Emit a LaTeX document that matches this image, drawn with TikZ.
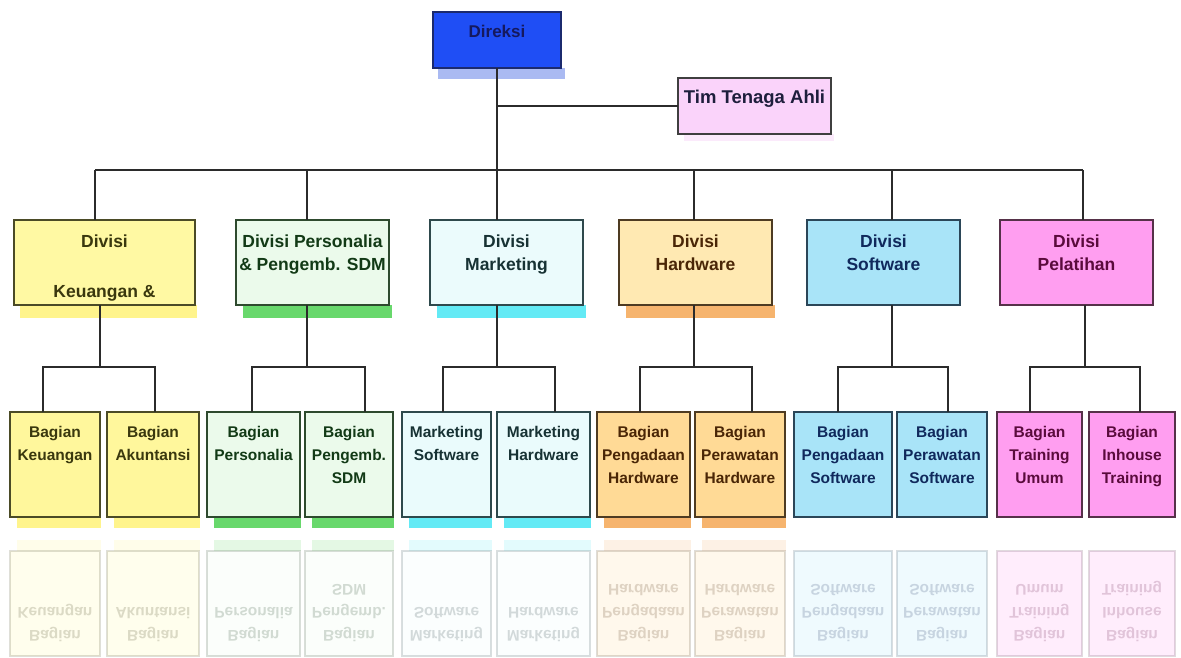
\documentclass[tikz,border=0pt]{standalone}
\usepackage{fontspec}
\setmainfont{Liberation Sans}

% warna
\definecolor{hitam}{HTML}{2B2B2B}
\definecolor{dir-isi}{HTML}{1F4EF5}\definecolor{dir-teks}{HTML}{15195E}
\definecolor{dir-garis}{HTML}{1B2A6E}\definecolor{dir-bayang}{HTML}{AABAF2}
\definecolor{tim-isi}{HTML}{FAD3FA}\definecolor{tim-teks}{HTML}{1E1E3C}
\definecolor{tim-garis}{HTML}{3F3F3F}\definecolor{tim-bayang}{HTML}{FBEAFB}
\definecolor{keu-div}{HTML}{FFF9A3}\definecolor{keu-sub}{HTML}{FFF79C}
\definecolor{keu-garis}{HTML}{4B4B26}\definecolor{keu-teks}{HTML}{3A380E}
\definecolor{keu-bayang}{HTML}{FFF48C}
\definecolor{per-div}{HTML}{EBFAEB}\definecolor{per-sub}{HTML}{EBFAEB}
\definecolor{per-garis}{HTML}{2E4A2E}\definecolor{per-teks}{HTML}{123A16}
\definecolor{per-bayang}{HTML}{68D86C}
\definecolor{mkt-div}{HTML}{EBFBFC}\definecolor{mkt-sub}{HTML}{EAFBFC}
\definecolor{mkt-garis}{HTML}{2E494C}\definecolor{mkt-teks}{HTML}{173234}
\definecolor{mkt-bayang}{HTML}{63EAF5}
\definecolor{hw-div}{HTML}{FFE9B2}\definecolor{hw-sub}{HTML}{FFDA96}
\definecolor{hw-garis}{HTML}{4E3B22}\definecolor{hw-teks}{HTML}{4A2606}
\definecolor{hw-bayang}{HTML}{F6B46E}
\definecolor{sw-div}{HTML}{A9E4F8}\definecolor{sw-sub}{HTML}{A9E4F8}
\definecolor{sw-garis}{HTML}{2B4658}\definecolor{sw-teks}{HTML}{10295C}
\definecolor{sw-bayang}{HTML}{FFFFFF}
\definecolor{pl-div}{HTML}{FF9EF0}\definecolor{pl-sub}{HTML}{FF9EF0}
\definecolor{pl-garis}{HTML}{563149}\definecolor{pl-teks}{HTML}{5A0B3C}
\definecolor{pl-bayang}{HTML}{FFFFFF}

% teks rata atas
\newcommand{\baris}[1]{\begin{tabular}[t]{@{}c@{}}#1\end{tabular}}

% bagian: kiri/kanan/warna/teks
\def\daftarbagian{10/100/keu/Bagian\\Keuangan, 107/199/keu/Bagian\\Akuntansi,
  207/300/per/Bagian\\Personalia, 305/393/per/Bagian\\Pengemb.\\SDM,
  402/491/mkt/Marketing\\Software, 497/590/mkt/Marketing\\Hardware,
  597/690/hw/Bagian\\Pengadaan\\Hardware, 695/785/hw/Bagian\\Perawatan\\Hardware,
  794/892/sw/Bagian\\Pengadaan\\Software, 897/987/sw/Bagian\\Perawatan\\Software,
  997/1082/pl/Bagian\\Training\\Umum, 1089/1175/pl/Bagian\\Inhouse\\Training}

\begin{document}
\begin{tikzpicture}[x=1pt,y=-1pt,
    sambung/.style={draw=hitam, line width=1.3pt},
    kotak/.style={draw, line width=1.2pt, inner sep=0pt, outer sep=0pt, anchor=north west},
    divisi/.style={kotak, minimum width=153pt, text height=27pt, text depth=58pt,
      font=\bfseries\fontsize{17.5}{23}\selectfont},
    bagian/.style={kotak, text height=25.5pt, text depth=79.5pt,
      font=\bfseries\fontsize{15.5}{23}\selectfont}]
    \useasboundingbox (0,0) rectangle (1181,657);

    % Direksi dan tim
    \fill[dir-bayang] (438,68) rectangle (565,79);
    \fill[tim-bayang] (684,134) rectangle (834,141);
    \node[kotak, fill=dir-isi, draw=dir-garis, text=dir-teks, minimum width=128pt,
      text height=25pt, text depth=31pt, font=\bfseries\fontsize{17}{20}\selectfont]
      (dir) at (433,12) {Direksi};
    \node[kotak, fill=tim-isi, draw=tim-garis, text=tim-teks, minimum width=153pt,
      text height=25pt, text depth=31pt, font=\bfseries\fontsize{18.5}{22}\selectfont]
      (tim) at (678,78) {Tim Tenaga Ahli};

    % Divisi
    \foreach \xa/\xb/\w in {20/197/keu, 243/392/per, 437/586/mkt, 626/775/hw}
      \fill[\w-bayang] (\xa,305) rectangle (\xb,318);
    \node[divisi, fill=keu-div, draw=keu-garis, text=keu-teks, minimum width=181pt]
      (dkeu) at (14,220) {\baris{Divisi\\[27pt]Keuangan \&}};
    \node[divisi, fill=per-div, draw=per-garis, text=per-teks]
      (dper) at (236,220) {\baris{Divisi Personalia\\\& Pengemb. SDM}};
    \node[divisi, fill=mkt-div, draw=mkt-garis, text=mkt-teks]
      (dmkt) at (430,220) {\baris{Divisi\\Marketing}};
    \node[divisi, fill=hw-div, draw=hw-garis, text=hw-teks]
      (dhw) at (619,220) {\baris{Divisi\\Hardware}};
    \node[divisi, fill=sw-div, draw=sw-garis, text=sw-teks]
      (dsw) at (807,220) {\baris{Divisi\\Software}};
    \node[divisi, fill=pl-div, draw=pl-garis, text=pl-teks]
      (dpl) at (1000,220) {\baris{Divisi\\Pelatihan}};

    % Bagian
    \foreach \xa/\xb/\w/\teks [count=\i] in \daftarbagian {
      \fill[\w-bayang] (\xa+7,517) rectangle (\xb+1,528);
      \node[bagian, fill=\w-sub, draw=\w-garis, text=\w-teks,
        minimum width=(\xb-\xa)*1pt] (b\i) at (\xa,412) {\baris{\teks}};
    }

    % Garis penghubung
    \coordinate (bus) at (497,170);
    \draw[sambung] (dir.south) -- (dir.south |- bus);
    \draw[sambung] (dir.south |- tim.west) -- (tim.west);
    \draw[sambung] (bus -| 95,0) -- (bus -| 1083,0);
    \foreach \d/\xd in {dkeu/95, dper/307, dmkt/497, dhw/694, dsw/892, dpl/1083}
      \draw[sambung] (bus -| \xd,0) -- (\d.north -| \xd,0);
    \foreach \d/\xd/\xl/\xr/\sa/\sb in {dkeu/100/43/155/b1/b2, dper/307/252/365/b3/b4,
        dmkt/497/443/555/b5/b6, dhw/694/640/752/b7/b8, dsw/892/838/948/b9/b10,
        dpl/1085/1030/1140/b11/b12} {
      \coordinate (t-\d) at (\xd,367);
      \draw[sambung] (\d.south -| t-\d) -- (t-\d);
      \draw[sambung] (\sa.north -| \xl,0) |- (t-\d) -| (\sb.north -| \xr,0);
    }

    % Pantulan
    \begin{scope}[yshift=-1068pt, yscale=-1, transform shape, opacity=.18]
      \foreach \xa/\xb/\w/\teks [count=\i] in \daftarbagian {
        \fill[\w-bayang] (\xa+7,517) rectangle (\xb+1,528);
        \node[bagian, fill=\w-sub, draw=\w-garis, text=\w-teks,
          minimum width=(\xb-\xa)*1pt] (p\i) at (\xa,412) {\baris{\teks}};
      }
    \end{scope}
\end{tikzpicture}
\end{document}
